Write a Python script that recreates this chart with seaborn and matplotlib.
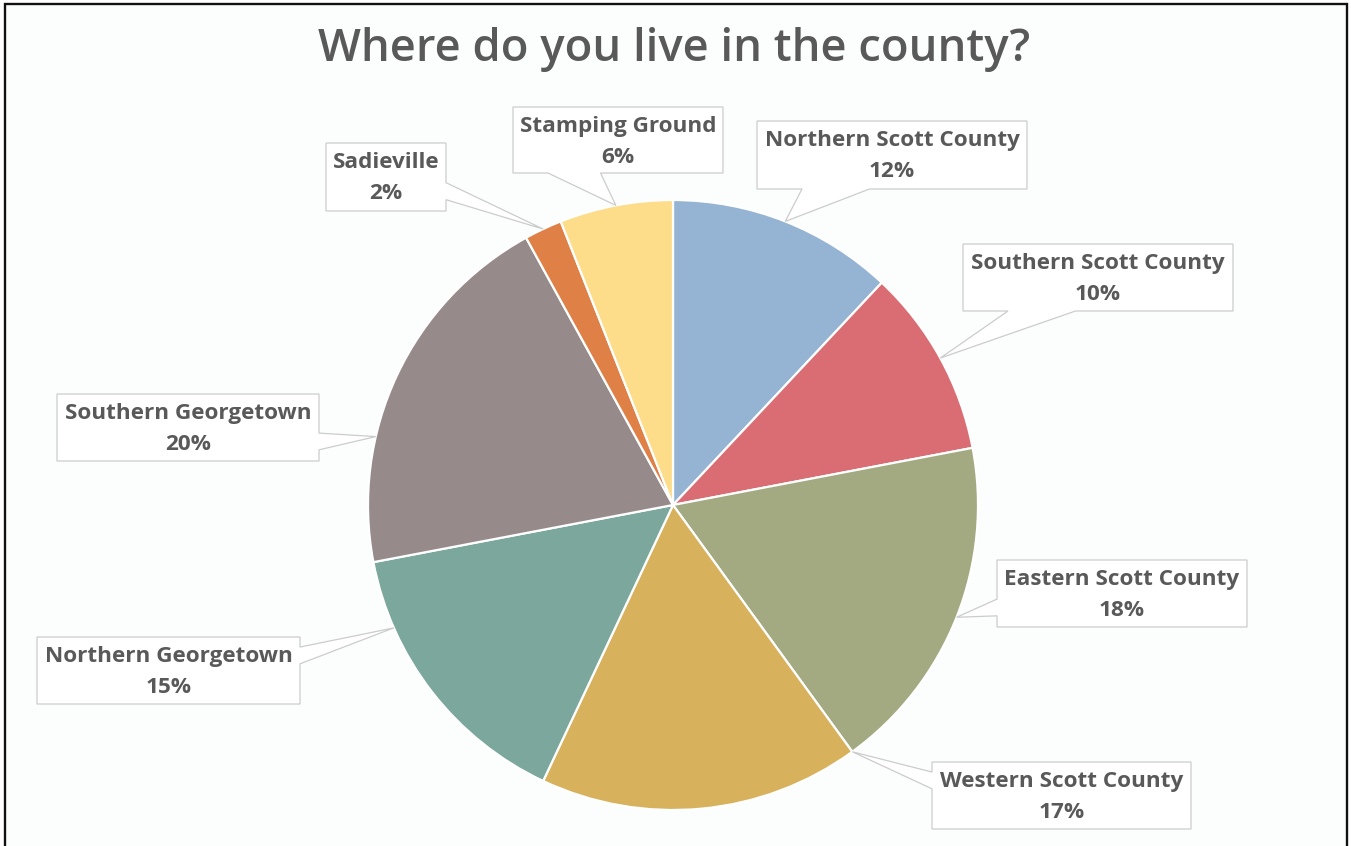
import numpy as np
import matplotlib
matplotlib.use("Agg")
import matplotlib.pyplot as plt
import seaborn as sns
from matplotlib.patches import Polygon, Rectangle

# ---- data ----
regions = ["Northern Scott County", "Southern Scott County", "Eastern Scott County",
           "Western Scott County", "Northern Georgetown", "Southern Georgetown",
           "Sadieville", "Stamping Ground"]
shares = [12, 10, 18, 17, 15, 20, 2, 6]
colors = ["#95B3D3", "#D96D73", "#A3A980", "#D8B15C",
          "#7BA79C", "#968B8A", "#DF8147", "#FDDD8A"]
title = "Where do you live in the county?"

# ---- layout (pixels, origin top-left) ----
W, H = 1351, 846
pie_cx, pie_cy, pie_r = 673, 505, 305
# callout boxes: left, top, width, height
boxes = [(757, 121, 270, 68), (963, 244, 270, 67), (997, 560, 250, 67),
         (932, 762, 259, 67), (37, 637, 263, 67), (57, 394, 262, 67),
         (326, 143, 120, 68), (513, 107, 210, 66)]
# edge carrying the pointer, and the span of its base along that edge
tails = [("bottom", 1 / 6, 5 / 12), ("bottom", 1 / 6, 5 / 12), ("left", 7 / 12, 5 / 6),
         ("left", 0.15, 0.40), ("right", 0.15, 0.40), ("right", 7 / 12, 5 / 6),
         ("right", 7 / 12, 5 / 6), ("bottom", 1 / 6, 5 / 12)]
# where along each wedge's arc the pointer lands (0 = leading edge, clockwise)
tip_pos = [0.5, 0.5, 0.5, 0.0, 0.76, 0.33, 0.5, 0.5]

TEXT = "#595959"
BOX_EDGE = "#CCCCCC"

sns.set_theme(style="white")
plt.rcParams["font.family"] = ["Open Sans", "DejaVu Sans"]

fig = plt.figure(figsize=(W / 100, H / 100), dpi=100)
fig.patch.set_facecolor("white")
ax = fig.add_axes([0, 0, 1, 1])


def Y(y):
    return H - y


wedges, _ = ax.pie(shares, colors=colors, startangle=90, counterclock=False,
                   center=(pie_cx, Y(pie_cy)), radius=pie_r,
                   wedgeprops=dict(edgecolor="white", linewidth=1.6))
for w in wedges:
    w.set_zorder(2)

ax.set_xlim(0, W)
ax.set_ylim(0, H)
ax.set_aspect("equal")
ax.axis("off")

# chart area with its dark frame (bottom edge runs past the canvas)
ax.add_patch(Rectangle((4.5, -20), 1342, H - 3.5 + 20, facecolor="#FCFEFE",
                       edgecolor="#111111", linewidth=1.7, zorder=0))


def callout(box, tail, tip):
    x0, y0, w, h = box
    side, f0, f1 = tail
    TL, TR, BR, BL = (x0, y0), (x0 + w, y0), (x0 + w, y0 + h), (x0, y0 + h)
    if side == "bottom":
        a, b = (x0 + f0 * w, y0 + h), (x0 + f1 * w, y0 + h)
        pts = [TL, TR, BR, b, tip, a, BL]
    elif side == "left":
        a, b = (x0, y0 + f0 * h), (x0, y0 + f1 * h)
        pts = [TL, TR, BR, BL, b, tip, a]
    elif side == "right":
        a, b = (x0 + w, y0 + f0 * h), (x0 + w, y0 + f1 * h)
        pts = [TL, TR, a, tip, b, BR, BL]
    else:
        a, b = (x0 + f0 * w, y0), (x0 + f1 * w, y0)
        pts = [TL, a, tip, b, TR, BR, BL]
    return [(px, Y(py)) for px, py in pts]


for w, name, val, box, tail, fpos in zip(wedges, regions, shares, boxes, tails, tip_pos):
    ang = np.deg2rad(w.theta2 - fpos * (w.theta2 - w.theta1))
    tx = w.center[0] + w.r * np.cos(ang)
    ty = H - (w.center[1] + w.r * np.sin(ang))
    ax.add_patch(Polygon(callout(box, tail, (tx, ty)), closed=True,
                         facecolor="white", edgecolor=BOX_EDGE, linewidth=0.9,
                         joinstyle="miter", zorder=3))
    x0, y0, bw, bh = box
    cx = x0 + bw / 2
    ax.text(cx, Y(y0 + 19), name, ha="center", va="center", fontsize=16.2,
            fontweight="bold", color=TEXT, zorder=4)
    ax.text(cx, Y(y0 + 50), f"{val}%", ha="center", va="center", fontsize=16.2,
            fontweight="bold", color=TEXT, zorder=4)

ax.text(674, Y(61), title, ha="center", va="baseline", fontsize=32.7,
        fontweight="semibold", color=TEXT, zorder=4)

fig.savefig("out.png", dpi=100, facecolor=fig.get_facecolor())
